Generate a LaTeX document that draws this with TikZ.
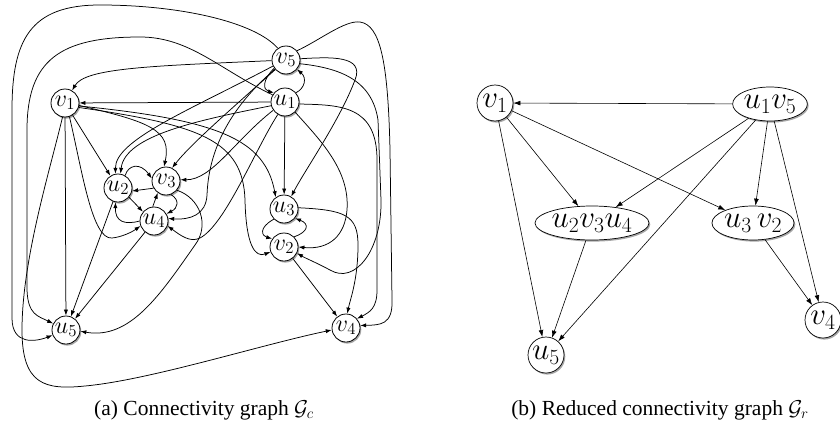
\RequirePackage{fix-cm}
\documentclass[tikz,border=0pt]{standalone}
\usepackage{fontspec}
\setmainfont{Liberation Serif}
\usetikzlibrary{arrows.meta,shapes.geometric,shadows}
\tikzset{
  shad/.style={drop shadow={shadow xshift=1.3pt,shadow yshift=-1.6pt,fill=black,opacity=0.35}},
  lc/.style={circle,draw,line width=0.8pt,fill=white,minimum size=28pt,inner sep=0pt,shad,font=\fontsize{24}{26}\selectfont},
  rc/.style={circle,draw,line width=0.7pt,fill=white,minimum size=36pt,inner sep=0pt,shad,font=\fontsize{31}{33}\selectfont},
  re/.style={ellipse,draw,line width=0.7pt,fill=white,minimum height=34pt,inner sep=0pt,shad,font=\fontsize{31}{33}\selectfont},
  ea/.style={-{Latex[length=6pt,width=4.2pt]},line width=0.75pt},
  eb/.style={-{Latex[length=7pt,width=4.8pt]},line width=0.6pt},
  captext/.style={font=\rmfamily\fontsize{21.5}{24}\selectfont,inner sep=0pt,anchor=base}
}
\begin{document}
\begin{tikzpicture}[x=1pt,y=-1pt]
\useasboundingbox (0,0) rectangle (840,431);
% ---------- left graph nodes
\node[lc] (v5) at (286,60) {$v_5$};
\node[lc] (u1) at (285,102) {$u_1$};
\node[lc] (v1) at (65,103) {$v_1$};
\node[lc] (u2) at (118,188) {$u_2$};
\node[lc] (v3) at (166,181) {$v_3$};
\node[lc] (u4) at (154,221) {$u_4$};
\node[lc] (u3) at (284,209) {$u_3$};
\node[lc] (v2) at (284,247) {$v_2$};
\node[lc] (u5) at (66,330) {$u_5$};
\node[lc] (v4) at (346,328) {$v_4$};
% ---------- left graph edges
\draw[ea] (u1) -- (v1);
\draw[ea] (v5) .. controls (150,66) and (85,68) .. (v1);
\draw[ea] (v5.215) .. controls (262,80) and (263,90) .. (u1.140);
\draw[ea] (u1.40) .. controls (305,88) and (307,78) .. (v5.-40);
\draw[ea] (v5.125) .. controls (255,22) and (180,5) .. (100,5) .. controls (30,5) and (12,40) .. (12,110) -- (12,318) .. controls (12,345) and (35,342) .. (u5);
\draw[ea] (u1.150) .. controls (220,70) and (190,37) .. (140,37) .. controls (60,37) and (27,60) .. (27,130) -- (27,290) .. controls (28,315) and (38,316) .. (u5);
\draw[ea] (v1) -- (u5);
\draw[ea] (v1) -- (u2);
\draw[ea] (v1.-10) .. controls (150,122) and (172,130) .. (v3.98);
\draw[ea] (v1.-12) .. controls (220,120) and (265,140) .. (u3.125);
\draw[ea] (v1.-18) .. controls (200,125) and (243,140) .. (245,200) .. controls (246,245) and (255,258) .. (v2.200);
\draw[ea] (v1.-72) .. controls (82,170) and (92,240) .. (112,238) .. controls (122,237) and (132,232) .. (u4.200);
\draw[ea] (v1.-100) .. controls (50,170) and (22,260) .. (22,330) .. controls (22,385) and (45,390) .. (85,386) .. controls (150,380) and (260,345) .. (v4.188);
\draw[ea] (v5.205) .. controls (190,110) and (115,140) .. (u2.100);
\draw[ea] (u1.195) .. controls (200,120) and (125,135) .. (u2.80);
\draw[ea] (v5) .. controls (230,110) and (190,145) .. (v3.65);
\draw[ea] (u1.215) .. controls (235,140) and (212,180) .. (v3.5);
\draw[ea] (v5.220) .. controls (215,120) and (208,170) .. (207,195) .. controls (206,215) and (190,220) .. (u4.10);
\draw[ea] (u1.240) .. controls (255,150) and (225,225) .. (200,238) .. controls (190,243) and (180,235) .. (u4.-20);
\draw[ea] (v5.5) .. controls (330,57) and (365,55) .. (355,80) .. controls (340,120) and (305,170) .. (u3.60);
\draw[ea] (v5.40) .. controls (320,40) and (345,20) .. (360,22) .. controls (380,25) and (388,60) .. (390,150) -- (392,300) .. controls (393,325) and (380,325) .. (v4.10);
\draw[ea] (u1.-8) .. controls (340,105) and (377,105) .. (377,160) -- (377,290) .. controls (377,308) and (370,312) .. (v4.40);
\draw[ea] (v5.-15) .. controls (340,68) and (372,80) .. (378,120) -- (381,200) .. controls (382,250) and (355,285) .. (330,270) .. controls (315,262) and (305,258) .. (v2.-25);
\draw[ea] (u1.-45) .. controls (320,140) and (350,170) .. (347,210) .. controls (345,235) and (330,250) .. (v2.0);
\draw[ea] (u1) -- (u3);
\draw[ea] (u3.-135) .. controls (258,228) and (262,236) .. (v2.145);
\draw[ea] (v2.45) .. controls (308,232) and (310,224) .. (u3.-40);
\draw[ea] (u3.5) .. controls (345,210) and (358,215) .. (358,245) .. controls (358,280) and (350,300) .. (v4.85);
\draw[ea] (v2) -- (v4);
\draw[ea] (u2) -- (u5);
\draw[ea] (u4) -- (u5);
\draw[ea] (v3.-40) .. controls (200,198) and (210,225) .. (195,245) .. controls (160,295) and (130,340) .. (u5.-5);
\draw[ea] (u2.60) .. controls (128,165) and (140,162) .. (v3.170);
\draw[ea] (v3.210) -- (u2.-12);
\draw[ea] (u2.-40) -- (u4.140);
\draw[ea] (u4.95) -- (v3.-125);
\draw[ea] (v3.-70) .. controls (180,200) and (178,208) .. (u4.30);
\draw[ea] (u4.180) .. controls (125,225) and (115,222) .. (u2.-100);
% ---------- right graph
\node[rc] (rv1) at (495,103) {$v_1$};
\node[re,minimum width=68pt] (ruv) at (770,104) {$u_1v_5$};
\node[re,minimum width=98pt] (ruvu) at (592,223) {$u_2v_3u_4$};
\node[re,minimum width=80pt] (ruv2) at (753,223) {$u_3\,v_2$};
\node[rc] (rv4) at (823,320) {$v_4$};
\node[rc] (ru5) at (546,355) {$u_5$};
\draw[eb] (ruv) -- (rv1);
\draw[eb] (rv1) -- (ruvu);
\draw[eb] (rv1) -- (ruv2);
\draw[eb] (rv1) -- (ru5);
\draw[eb] (ruv) -- (ruvu);
\draw[eb] (ruv) -- (ru5);
\draw[eb] (ruv) -- (ruv2);
\draw[eb] (ruv) -- (rv4);
\draw[eb] (ruvu) -- (ru5);
\draw[eb] (ruv2) -- (rv4);
% ---------- captions
\node[captext] (capa) at (204,415) {(a) Connectivity graph $\mathcal{G}_c$};
\node[captext] (capb) at (660,415) {(b) Reduced connectivity graph $\mathcal{G}_r$};
\end{tikzpicture}
\end{document}
